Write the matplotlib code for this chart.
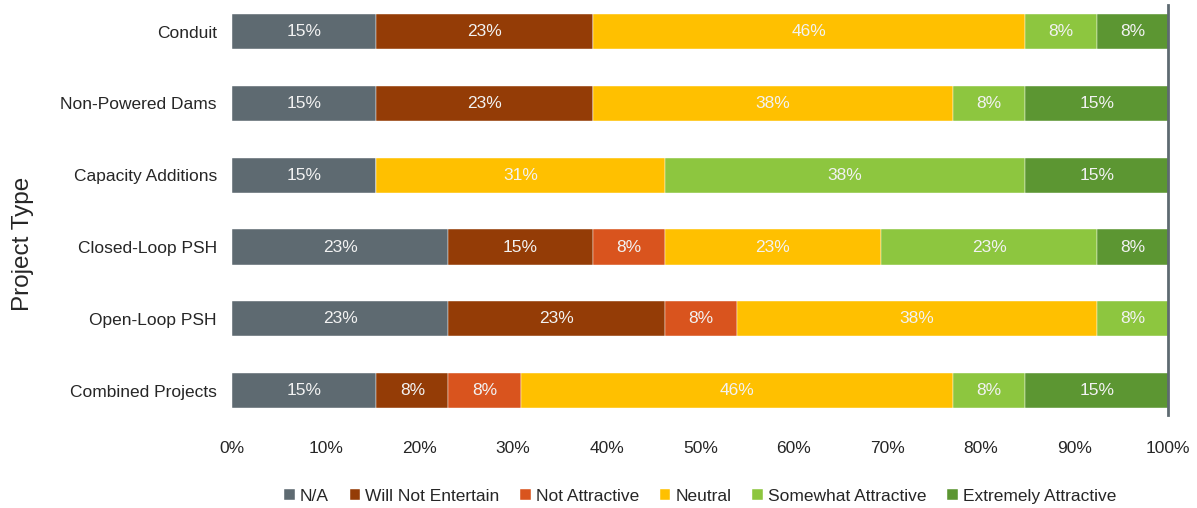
import numpy as np
import matplotlib.pyplot as plt

plt.rcParams['font.family'] = ['Liberation Sans', 'DejaVu Sans']

projects = ['Conduit', 'Non-Powered Dams', 'Capacity Additions',
            'Closed-Loop PSH', 'Open-Loop PSH', 'Combined Projects']
responses = ['N/A', 'Will Not Entertain', 'Not Attractive', 'Neutral',
             'Somewhat Attractive', 'Extremely Attractive']
colors = ['#5E6A71', '#943C06', '#D9541E', '#FFC000', '#8DC63F', '#5C9632']

# share of respondents (%) per project type, one list per response
na = [15.4, 15.4, 15.4, 23.1, 23.1, 15.4]
will_not = [23.1, 23.1, 0, 15.4, 23.1, 7.7]
not_attr = [0, 0, 0, 7.7, 7.7, 7.7]
neutral = [46.2, 38.5, 30.8, 23.1, 38.5, 46.2]
somewhat = [7.7, 7.7, 38.5, 23.1, 7.7, 7.7]
extremely = [7.7, 15.4, 15.4, 7.7, 0, 15.4]
series = [na, will_not, not_attr, neutral, somewhat, extremely]

fig = plt.figure(figsize=(11.97, 5.08), dpi=100)
ax = fig.add_axes([0.194, 0.183, 0.782, 0.807])

y = np.arange(len(projects))
left = np.zeros(len(projects))
for vals, name, col in zip(series, responses, colors):
    vals = np.array(vals)
    ax.barh(y, vals, left=left, height=0.49, color=col, label=name,
            edgecolor='white', linewidth=0.3)
    for yi, (l, v) in enumerate(zip(left, vals)):
        if v > 0:
            ax.text(l + v / 2, yi, f'{v:.0f}%', ha='center', va='center',
                    color='#F2F2F2', fontsize=12.5)
    left += vals

ax.set_ylim(len(projects) - 1 + 0.34, -0.37)
ax.set_xlim(0, 100)
ax.set_yticks(y)
ax.set_yticklabels(projects, fontsize=12.5, color='#262626')
ax.set_xticks(np.arange(0, 101, 10))
ax.set_xticklabels([f'{t}%' for t in range(0, 101, 10)], fontsize=12.5, color='#262626')
ax.tick_params(axis='both', length=0)
ax.tick_params(axis='y', pad=11)
ax.tick_params(axis='x', pad=19)
for s in ['top', 'left', 'bottom']:
    ax.spines[s].set_visible(False)
ax.spines['right'].set_color('#5E6A71')
ax.spines['right'].set_linewidth(2)

fig.text(0.019, 0.52, 'Project Type', rotation=90, ha='center', va='center',
         fontsize=17.5, color='#262626')

fig.legend(loc='center', bbox_to_anchor=(0.585, 0.023), ncol=6, frameon=False,
           fontsize=12.5, handlelength=0.6, handleheight=0.6, handletextpad=0.3,
           columnspacing=1.2, labelcolor='#262626')

fig.savefig('out.png', dpi=100)
